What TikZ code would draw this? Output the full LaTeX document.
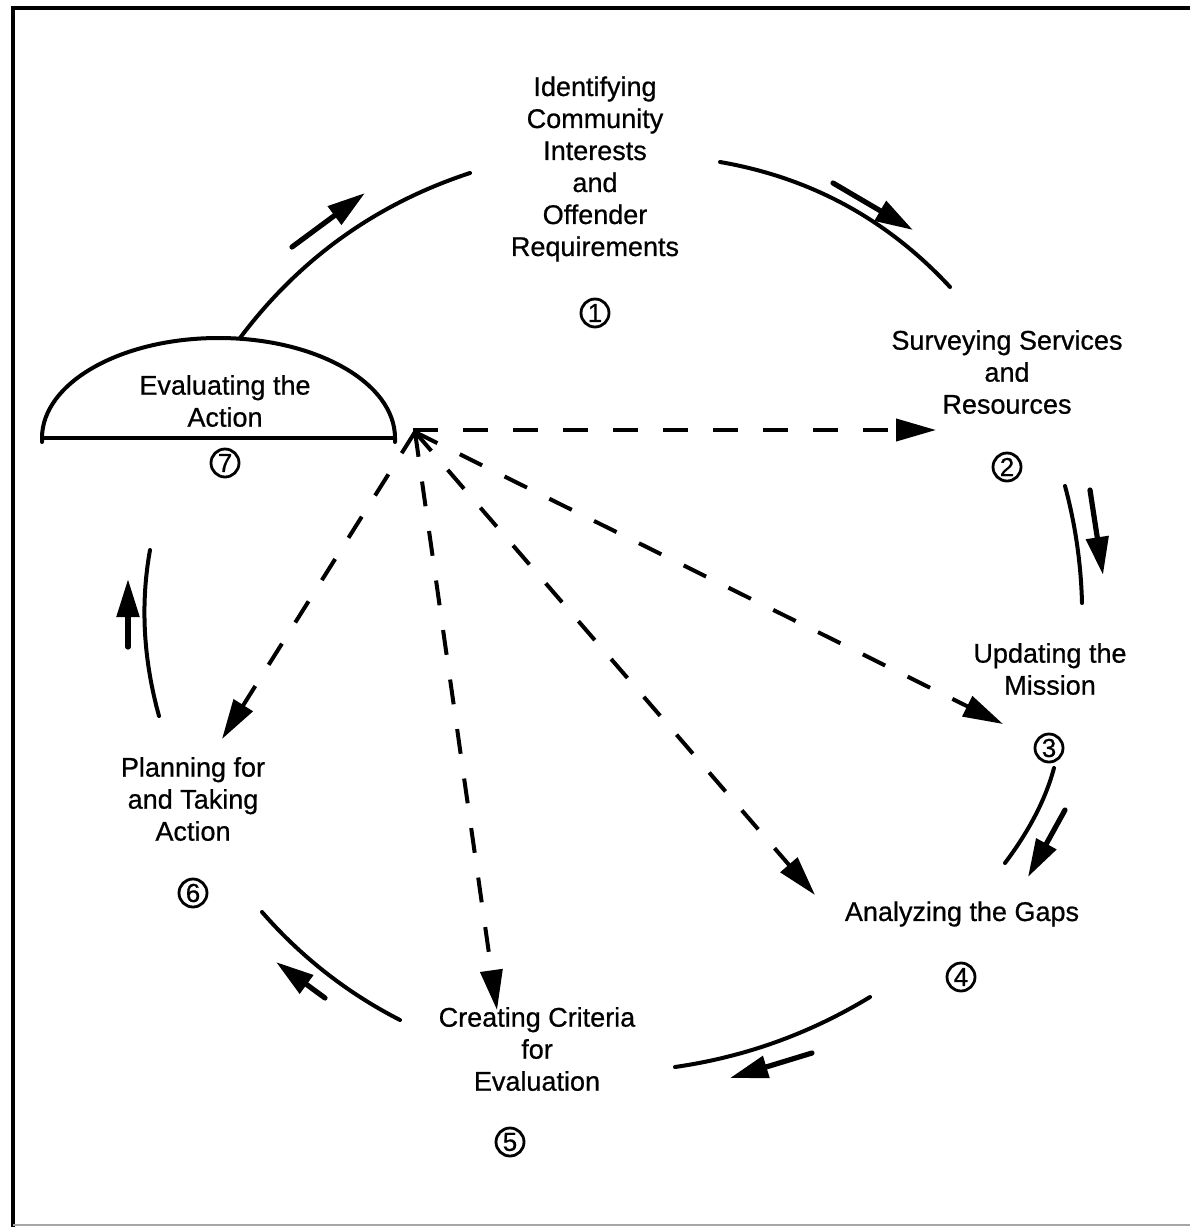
\documentclass[tikz,border=0pt]{standalone}
\usepackage{fontspec}
\setmainfont{Liberation Sans}[FakeBold=0.7]
\usetikzlibrary{arrows.meta}
\begin{document}
\begin{tikzpicture}[x=0.5pt,y=-0.5pt,
  lbl/.style={font=\fontsize{13.5}{16}\selectfont, align=center, inner sep=0pt},
  num/.style={circle, draw, line width=1.4pt, minimum size=14pt, inner sep=0pt, font=\fontsize{13}{13}\selectfont},
  cyc/.style={line width=2pt, line cap=round},
  flow/.style={line width=2.6pt, line cap=round, -{Triangle[length=19pt,width=11pt]}},
  dsh/.style={line width=2pt, dash pattern=on 12.5pt off 12.5pt, -{Triangle[length=20pt,width=11pt]}},
  frame/.style={line width=2pt}
]
\useasboundingbox (0,0) rectangle (1190,1227);
% frame
\draw[frame] (13,1227) -- (13,8) -- (1190,8);
\draw[line width=0.6pt, black!35] (13,1225) -- (1190,1225);

% labels
\node[lbl] (n1) at (595,169) {Identifying\\Community\\Interests\\and\\Offender\\Requirements};
\node[lbl] (n2) at (1007,372) {Surveying Services\\and\\Resources};
\node[lbl] (n3) at (1050,669) {Updating the\\Mission};
\node[lbl] (n4) at (962,914) {Analyzing the Gaps};
\node[lbl] (n5) at (537,1049) {Creating Criteria\\for\\Evaluation};
\node[lbl] (n6) at (193,799) {Planning for\\and Taking\\Action};
\node[lbl] (n7) at (225,401) {Evaluating the\\Action};

% circled numbers
\node[num] (c1) at (595,313) {1};
\node[num] (c2) at (1007,467) {2};
\node[num] (c3) at (1049,748) {3};
\node[num] (c4) at (961,977) {4};
\node[num] (c5) at (510,1142) {5};
\node[num] (c6) at (193,893) {6};
\node[num] (c7) at (225,463) {7};

% dome around step 7
\draw[cyc] (42,442) -- (42,438) arc[start angle=180, end angle=360, x radius=176.5, y radius=100] -- (395,442);
\draw[cyc] (42,438) -- (395,438);
\coordinate (domeTop) at (240,338);

% cycle arcs
\coordinate (a1s) at (470,173);
\coordinate (a2s) at (720,162);   \coordinate (a2e) at (950,287);
\coordinate (a3s) at (1065,486);  \coordinate (a3e) at (1082,603);
\coordinate (a4s) at (1054,768);  \coordinate (a4e) at (1005,863);
\coordinate (a5s) at (870,997);   \coordinate (a5e) at (675,1067);
\coordinate (a6s) at (400,1020);  \coordinate (a6e) at (262,912);
\coordinate (a7s) at (159,716);   \coordinate (a7e) at (150,550);
\draw[cyc] (domeTop) .. controls (299.3,258.9) and (376,203.9) .. (a1s);
\draw[cyc] (a2s) .. controls (810.7,177.7) and (887.3,219.3) .. (a2e);
\draw[cyc] (a3s) .. controls (1075.3,524.3) and (1081,563.3) .. (a3e);
\draw[cyc] (a4s) .. controls (1045.7,799) and (1029.3,830.7) .. (a4e);
\draw[cyc] (a5s) .. controls (809.7,1033.7) and (744.7,1057) .. (a5e);
\draw[cyc] (a6s) .. controls (347.1,992.9) and (301.1,956.9) .. (a6e);
\draw[cyc] (a7s) .. controls (143.3,659.3) and (140.3,604) .. (a7e);

% flow arrows
\coordinate (f1s) at (292,247);  \coordinate (f1e) at (365,193);
\coordinate (f2s) at (833,183);  \coordinate (f2e) at (913,230);
\coordinate (f3s) at (1090,490); \coordinate (f3e) at (1103,575);
\coordinate (f4s) at (1065,810); \coordinate (f4e) at (1028,877);
\coordinate (f5s) at (812,1053); \coordinate (f5e) at (730,1078);
\coordinate (f6s) at (325,998);  \coordinate (f6e) at (276,962);
\coordinate (f7s) at (128,647);  \coordinate (f7e) at (128,579);
\foreach \i in {1,...,7} { \draw[flow] (f\i s) -- (f\i e); }

% dashed feedback arrows from the evaluation hub
\coordinate (hub) at (415,432);
\coordinate (hubh) at (413,430);
\coordinate (d2) at (936,430);
\coordinate (d3) at (1003,724);
\coordinate (d4) at (815,895);
\coordinate (d5) at (497,1010);
\coordinate (d6) at (222,739);
\draw[dsh] (hubh) -- (d2);
\draw[dsh] (hub) -- (d3);
\draw[dsh] (hub) -- (d4);
\draw[dsh] (hub) -- (d5);
\draw[dsh] (hub) -- (d6);
\end{tikzpicture}
\end{document}
